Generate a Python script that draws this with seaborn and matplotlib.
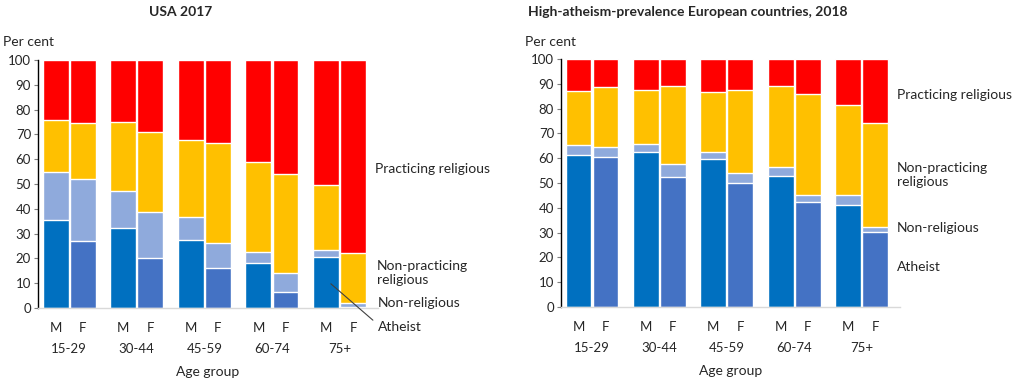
import seaborn as sns
import matplotlib.pyplot as plt
import numpy as np
import pandas as pd

# bar order: M, F for each age group
age_groups = ['15-29', '30-44', '45-59', '60-74', '75+']
sexes = ['M', 'F']

# USA 2017, segment shares (per cent)
usa_atheist = [35.6, 26.9, 32.4, 20.2, 27.6, 16.1, 18.0, 6.6, 20.4, 0.5]
usa_nonrel = [19.2, 25.3, 14.6, 18.6, 9.0, 10.2, 4.7, 7.4, 3.0, 1.5]
usa_nonprac = [21.1, 22.5, 28.0, 32.2, 31.3, 40.1, 36.0, 40.0, 26.3, 20.3]
usa_prac = [24.1, 25.3, 25.0, 29.0, 32.1, 33.6, 41.3, 46.0, 50.3, 77.7]

# High-atheism-prevalence European countries 2018
eu_atheist = [61.2, 60.6, 62.3, 52.3, 59.5, 49.9, 53.0, 42.5, 41.3, 30.4]
eu_nonrel = [4.1, 3.9, 3.3, 5.3, 3.1, 4.0, 3.3, 2.5, 3.7, 1.9]
eu_nonprac = [21.9, 24.2, 22.0, 31.4, 24.2, 33.7, 32.9, 40.9, 36.5, 41.8]
eu_prac = [12.8, 11.3, 12.4, 11.0, 13.2, 12.4, 10.8, 14.1, 18.5, 25.9]

C_PRAC = '#FF0000'
C_NONPRAC = '#FFC000'
C_NONREL = '#8FAADC'
C_ATH = {'M': '#0070C0', 'F': '#4472C4'}
TXT = '#262626'

sns.set_style('white')
plt.rcParams['font.family'] = ['Lato', 'DejaVu Sans']


def make_df(ath, nonrel, nonprac, prac):
    pos, sex = [], []
    for g in range(len(age_groups)):
        for j, s in enumerate(sexes):
            pos.append(g * 2.5 + j)
            sex.append(s)
    df = pd.DataFrame({'pos': pos, 'sex': sex, 'ath': ath, 'nonrel': nonrel,
                       'nonprac': nonprac, 'prac': prac})
    df['c_ath'] = df['ath']
    df['c_nonrel'] = df['c_ath'] + df['nonrel']
    df['c_nonprac'] = df['c_nonrel'] + df['nonprac']
    df['c_prac'] = df['c_nonprac'] + df['prac']
    return df


def draw(ax, df):
    kw = dict(data=df, x='pos', native_scale=True, width=0.96, errorbar=None,
              saturation=1, ax=ax)
    sns.barplot(y='c_prac', color=C_PRAC, **kw)
    sns.barplot(y='c_nonprac', color=C_NONPRAC, **kw)
    sns.barplot(y='c_nonrel', color=C_NONREL, **kw)
    sns.barplot(y='c_ath', hue='sex', palette=C_ATH, legend=False, **kw)

    ax.set_ylim(0, 100)
    ax.set_xlim(-0.65, 11.92)
    ax.set_yticks(range(0, 101, 10))
    ax.tick_params(axis='y', length=3, width=0.8, color='#7f7f7f', pad=2,
                   labelsize=9.5, labelcolor=TXT, left=True)
    ax.set_xticks(df['pos'], df['sex'])
    centers = [g * 2.5 + 0.5 for g in range(len(age_groups))]
    ax.set_xticks(centers, age_groups, minor=True)
    ax.tick_params(axis='x', which='major', length=0, pad=10, labelsize=9.5,
                   labelcolor=TXT)
    ax.tick_params(axis='x', which='minor', length=0, pad=25, labelsize=9.5,
                   labelcolor=TXT)
    ax.set_ylabel('')
    ax.set_xlabel('Age group', fontsize=10, color=TXT)
    ax.xaxis.set_label_coords(0.5, -0.235)
    for s in ['top', 'right']:
        ax.spines[s].set_visible(False)
    ax.spines['left'].set_color('black')
    ax.spines['left'].set_linewidth(1)
    ax.spines['bottom'].set_color('#D9D9D9')
    ax.spines['bottom'].set_linewidth(1)


fig = plt.figure(figsize=(10.24, 3.83), dpi=100)
W, H = 1024, 383
ax1 = fig.add_axes([38 / W, 75 / H, 340 / W, 248 / H])
ax2 = fig.add_axes([561 / W, 76 / H, 339 / W, 248 / H])

draw(ax1, make_df(usa_atheist, usa_nonrel, usa_nonprac, usa_prac))
draw(ax2, make_df(eu_atheist, eu_nonrel, eu_nonprac, eu_prac))


def ftext(x, y, s, **kw):
    fig.text(x / W, 1 - y / H, s, va='center', color=TXT, fontsize=10, **kw)


ftext(181, 12, 'USA 2017', ha='center', fontweight='bold')
ftext(688, 12, 'High-atheism-prevalence European countries, 2018', ha='center',
      fontweight='bold')
ftext(3, 42, 'Per cent')
ftext(525, 42, 'Per cent')

# left panel labels
ftext(375, 169, 'Practicing religious')
ftext(377, 273, 'Non-practicing\nreligious')
ftext(378, 303, 'Non-religious')
ftext(378, 327, 'Atheist')
ax1.annotate('', xy=(10.1, 10.5), xytext=(375 / W, 1 - 322 / H),
             textcoords='figure fraction',
             arrowprops=dict(arrowstyle='-', color='#404040', lw=0.8))

# right panel labels
ftext(897, 95, 'Practicing religious')
ftext(897, 175, 'Non-practicing\nreligious')
ftext(897, 228, 'Non-religious')
ftext(897, 267, 'Atheist')

fig.savefig('out.png', dpi=100)
